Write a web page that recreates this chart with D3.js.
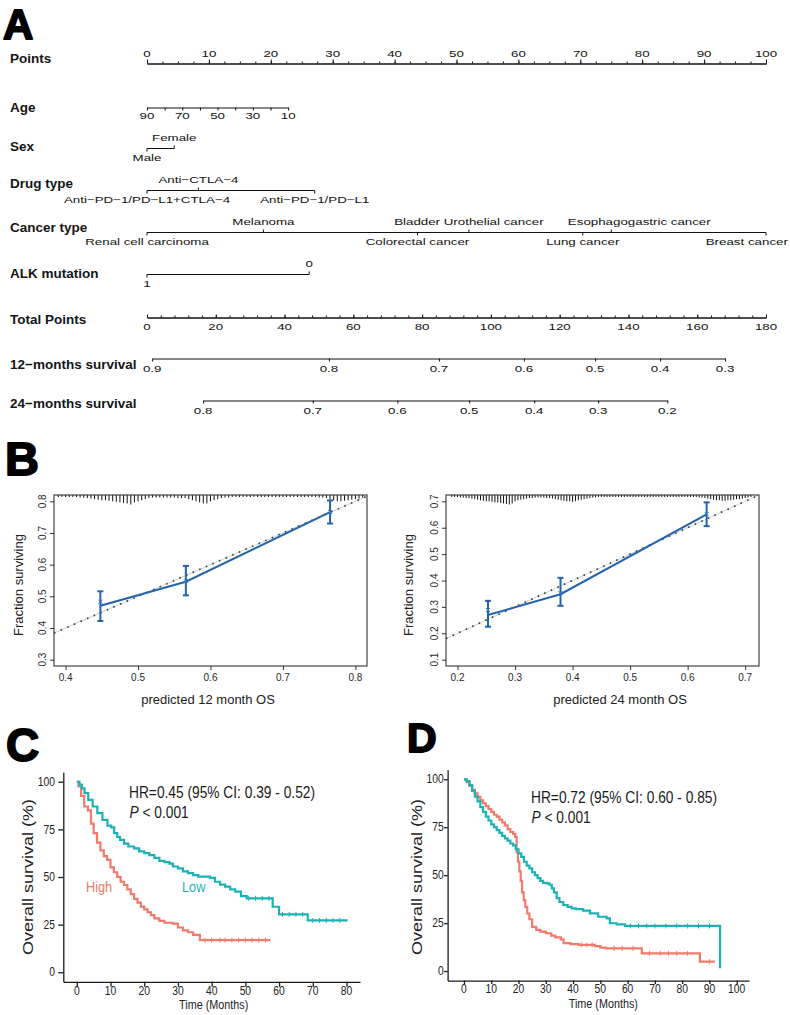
<!DOCTYPE html>
<html>
<head>
<meta charset="utf-8">
<script src="https://d3js.org/d3.v7.min.js"></script>
<style>
  body { margin: 0; background: #fff; }
  svg text { font-family: "Liberation Sans", Arial, Helvetica, sans-serif; }
</style>
</head>
<body>
<script>
// ---------- A: nomogram ----------
var pointTicks = [0, 10, 20, 30, 40, 50, 60, 70, 80, 90, 100];
var ageTicks = [90, 80, 70, 60, 50, 40, 30, 20, 10];
var ageLabels = [90, 70, 50, 30, 10];
var ageRange = [90, 10];
var agePoints = [0, 22.8];
var sexLevels = ["Male", "Female"];
var sexPoints = [0, 4.4];
var drugLevels = ["Anti−PD−1/PD−L1+CTLA−4", "Anti−CTLA−4", "Anti−PD−1/PD−L1"];
var drugPoints = [0, 8.3, 27.1];
var cancerLevels = ["Renal cell carcinoma", "Melanoma", "Colorectal cancer", "Bladder Urothelial cancer",
                    "Lung cancer", "Esophagogastric cancer", "Breast cancer"];
var cancerPoints = [0, 18.8, 43.7, 52, 70.4, 75, 100];
var alkLevels = ["1", "0"];
var alkPoints = [0, 26.2];
var totalTicks = [0, 20, 40, 60, 80, 100, 120, 140, 160, 180];
var surv12Labels = ["0.9", "0.8", "0.7", "0.6", "0.5", "0.4", "0.3"];
var surv12Total = [1.5, 52.9, 84.9, 109.6, 130.3, 149.2, 168.1];
var surv24Labels = ["0.8", "0.7", "0.6", "0.5", "0.4", "0.3", "0.2"];
var surv24Total = [16.3, 48.2, 72.8, 93.7, 112.6, 131.2, 151.3];

// ---------- B: calibration ----------
var cal12Pred = [0.448, 0.566, 0.765];
var cal12Obs = [0.470, 0.546, 0.766];
var cal12Lo = [0.422, 0.503, 0.730];
var cal12Hi = [0.516, 0.596, 0.803];
var cal12Corr = [0.483, 0.548, 0.766];
var cal12XTicks = [0.4, 0.5, 0.6, 0.7, 0.8];
var cal12YTicks = [0.3, 0.4, 0.5, 0.6, 0.7, 0.8];
var rug12Start = 0.39, rug12Step = 0.005;
var rug12 = [1,1,1,1,1,1,1.5,1.5,2,2.5,3,3.5,4,4,4.5,5,5.5,6,6.5,7,8,6,5,4,3,2,1.5,1.5,1.5,1.5,
             1.5,1.5,1.5,2,2,2,3,4,5,6,7,7,5,4,3,2,1.5,1.5,1,1,1,1,1,1,1,1,1,1,1,1,
             1,1,1,1,1,1,1,1,1,1,1,1,1.5,1.5,2,3,4,5,5,4.5,4,3.5,3,2.5,1.5];

var cal24Pred = [0.253, 0.379, 0.633];
var cal24Obs = [0.269, 0.348, 0.651];
var cal24Lo = [0.225, 0.304, 0.606];
var cal24Hi = [0.323, 0.410, 0.696];
var cal24Corr = [0.288, 0.352, 0.651];
var cal24XTicks = [0.2, 0.3, 0.4, 0.5, 0.6, 0.7];
var cal24YTicks = [0.1, 0.2, 0.3, 0.4, 0.5, 0.6, 0.7];
var rug24Start = 0.19, rug24Step = 0.005;
var rug24 = [1,1,1,1.5,1.5,2,2,2.5,3,3.5,4,
             4.5,5,5,5.5,6,6,6.5,7,7.5,8,7,5,
             4,3.5,3,2.5,2,2,1.5,1.5,1.5,1.5,
             2,2,2.5,3,3.5,4,4.5,5,5,5.5,
             5,4,3.5,3,2.5,2,1.5,1.5,1,1,
             1,1,1,1,1,1,1,1,1,1,1,1,1,1,1,1,1,1,1,1,1,1,1,1,1,1,1,1,1,1,
             1,1,1,1.5,1.5,2,2.5,3,
             3.5,4,4,4.5,4.5,4,4,3.5,3,3,2.5,2,
             1.5,1];

// ---------- C / D: Kaplan-Meier ----------
var survTicks = [0, 25, 50, 75, 100];
var cTimeTicks = [0, 10, 20, 30, 40, 50, 60, 70, 80];
var dTimeTicks = [0, 10, 20, 30, 40, 50, 60, 70, 80, 90, 100];

var cHighTime = [0, 0.5, 1.3, 2.2, 3.3, 4.2, 5, 6, 7, 8, 9, 10, 11, 12, 13, 14, 15, 16, 17, 18, 19, 20,
                 21, 22, 23, 24.5, 26, 28.5, 30, 31.5, 33, 34.5, 36.5, 57.4];
var cHighSurv = [100, 97.5, 92.5, 87, 85, 78, 73, 68, 64, 61, 59, 55, 52.5, 50, 47.5, 45.8, 43.5, 41, 38.5,
                 36.5, 34.5, 33, 31.5, 30, 28.3, 27, 26, 25.5, 23.5, 22, 21, 19.6, 16.9, 16.9];
var cHighCens = [38, 40, 42.5, 44, 46, 48, 50, 52, 54, 56];

var cLowTime = [0, 0.8, 1.5, 2.3, 3.4, 4.7, 6.1, 7.6, 9.1, 10.2, 11.1, 12, 12.8, 14, 15.3, 17, 18.5, 20,
                21.5, 23, 24.5, 26, 27.5, 28.5, 30, 31.5, 33, 34.5, 36, 39.5, 41, 42.5, 44, 45.5, 47,
                48.7, 50.4, 58.1, 60, 68.5, 80.3];
var cLowSurv = [100, 98.5, 96.5, 94, 90.5, 87, 83.5, 80, 77, 76, 73, 71, 69.5, 67.5, 66, 65, 63.5, 62.5,
                61.5, 60, 58.5, 57.8, 57, 55.5, 54.5, 53, 52, 51, 50.2, 49.5, 47.5, 46, 44.9, 43.5, 42.3,
                40, 38.8, 34.4, 30.4, 27.2, 27.2];
var cLowCens = [51, 53, 55, 57, 61, 63, 65, 67, 70, 72, 74, 76, 78];

var dHighTime = [0, 1, 2, 3, 4, 5, 6, 7, 8, 9, 10, 11, 12, 13, 14, 15, 16, 17, 18, 18.8, 19.3, 19.8,
                 20.3, 20.8, 21.3, 21.9, 22.5, 23.2, 24, 25, 26.5, 28, 30, 32, 33.5, 35.5, 36.5, 39, 42,
                 48, 50, 52, 65.2, 86.5, 92];
var dHighSurv = [100, 98.5, 96.5, 94.5, 92.7, 90.8, 89, 87.5, 86, 84.5, 83, 81.5, 80.5, 79, 77.5, 76, 74,
                 72.5, 71.5, 70, 62, 57, 52, 47, 41, 37, 33.5, 30, 27, 23, 21.5, 20.5, 19.7, 18.5, 17.5,
                 16.5, 14.5, 14, 13.6, 13, 12.2, 11.8, 9.2, 4.9, 4.9];
var dHighCens = [43, 45, 47, 55, 58, 62, 68, 72, 75, 78, 82, 90];

var dLowTime = [0, 1, 2, 3, 4, 5, 6, 7, 8, 9, 10, 11, 12, 13, 14, 15, 16, 17, 18, 19, 20, 21, 22, 23,
                24, 25, 26, 27, 28, 29, 30.3, 31.3, 32.2, 33, 34, 35, 36.4, 38, 39.5, 41, 43.7, 46.2,
                49.2, 52.3, 53.5, 56, 59, 93.9];
var dLowSurv = [100, 99, 97, 94, 91, 88.5, 85.5, 83, 80.5, 78.5, 76.5, 75, 73.5, 72, 70.5, 69.2, 68, 66.5,
                65.5, 63.5, 61.4, 59.5, 57, 55, 53.5, 51.5, 50, 48.4, 47, 46, 45.7, 45, 43.1, 41, 38, 36,
                34.4, 33.5, 32.7, 32.3, 31.5, 30.1, 28.3, 27.5, 24.9, 24.3, 23.5, 1.4];
var dLowCens = [61, 64, 67, 70, 74, 78, 82, 86, 90];

var redCol = "#F07A6C", tealCol = "#1BB2B6", blueCol = "#2364AC";

var svg = d3.select("body").append("svg").attr("width", 790).attr("height", 1015).style("display", "block");

function txt(g, x, y, s, o) {
  o = o || {};
  var tr = "translate(" + x + "," + y + ")";
  if (o.rot) tr += " rotate(" + o.rot + ")";
  if (o.sx || o.sy) tr += " scale(" + (o.sx || 1) + "," + (o.sy || 1) + ")";
  var t = g.append("text").attr("transform", tr)
    .attr("text-anchor", o.anchor || "start")
    .attr("font-size", o.size || 10)
    .attr("fill", o.fill || "#1a1a1a")
    .text(s);
  if (o.weight) t.attr("font-weight", o.weight);
  return t;
}

function letter(s, x, y, size) {
  txt(svg, x, y, s, {size: size, weight: "bold", fill: "#000"})
    .attr("stroke", "#000").attr("stroke-width", 1.8).attr("stroke-linejoin", "round");
}

function plainAxis(g, col) {
  g.attr("color", col || "#111").attr("font-size", null).attr("font-family", null);
  return g;
}

letter("A", 3, 38.5, 42);
letter("B", 5, 475, 47);
letter("C", 6, 761, 46);
letter("D", 407, 752, 41);

// ---------- nomogram ----------
var nomo = svg.append("g");
var xPts = d3.scaleLinear().domain([0, 100]).range([147, 766]);
var xTot = d3.scaleLinear().domain([0, 180]).range([147, 766]);
var tickOpt = {size: 9.2, sx: 1.45, anchor: "middle", fill: "#111"};

function rowLabel(s, y) {
  txt(nomo, 10, y, s, {size: 13.5, weight: "bold", fill: "#151515"});
}

function placeLabel(t, x, y) {
  t.attr("transform", "translate(" + x + "," + y + ") scale(" + tickOpt.sx + ",1)");
}

// Points
rowLabel("Points", 62.7);
plainAxis(nomo.append("g").attr("transform", "translate(0,63.5)")
  .call(d3.axisTop(xPts).tickValues(d3.range(0, 101, 2.5)).tickSize(2).tickSizeOuter(0).tickFormat("")));
plainAxis(nomo.append("g").attr("transform", "translate(0,63.5)")
  .call(d3.axisTop(xPts).tickValues(pointTicks).tickSize(4).tickSizeOuter(0).tickFormat("")));
pointTicks.forEach(function (v) { txt(nomo, xPts(v), 56.7, v, tickOpt); });

// Age
rowLabel("Age", 111.7);
var ageX = d3.scaleLinear().domain(ageRange).range(agePoints.map(xPts));
plainAxis(nomo.append("g").attr("transform", "translate(0,107.5)")
  .call(d3.axisBottom(ageX).tickValues(ageTicks).tickSize(3).tickSizeOuter(0).tickFormat("")));
ageLabels.forEach(function (v) { txt(nomo, ageX(v), 119, v, tickOpt); });

// categorical rows: labels alternate below / above; same-side labels are pushed apart, last one kept on page
function catRow(label, labelY, lineY, levels, pts) {
  rowLabel(label, labelY);
  var xs = pts.map(xPts);
  nomo.append("line").attr("x1", d3.min(xs)).attr("x2", d3.max(xs))
    .attr("y1", lineY).attr("y2", lineY).attr("stroke", "#111");
  var lastRight = {up: -1e9, down: -1e9};
  levels.forEach(function (lv, i) {
    var up = i % 2 === 1, side = up ? "up" : "down";
    var ly = up ? lineY - 7.4 : lineY + 12.8;
    nomo.append("line").attr("x1", xs[i]).attr("x2", xs[i])
      .attr("y1", lineY).attr("y2", lineY + (up ? -3 : 3)).attr("stroke", "#111");
    var t = txt(nomo, xs[i], ly, lv, tickOpt);
    var w = t.node().getBBox().width * tickOpt.sx;
    var cx = xs[i];
    if (cx - w / 2 < lastRight[side] + 24) cx = lastRight[side] + 24 + w / 2;
    if (cx + w / 2 > 788) cx = 788 - w / 2;
    placeLabel(t, cx, ly);
    lastRight[side] = cx + w / 2;
  });
}
catRow("Sex", 150.7, 148.5, sexLevels, sexPoints);
catRow("Drug type", 188.3, 190.5, drugLevels, drugPoints);
catRow("Cancer type", 231.7, 232.5, cancerLevels, cancerPoints);
catRow("ALK mutation", 277.7, 274.5, alkLevels, alkPoints);

// Total points
rowLabel("Total Points", 324);
plainAxis(nomo.append("g").attr("transform", "translate(0,317.5)")
  .call(d3.axisTop(xTot).tickValues(d3.range(0, 181, 4)).tickSize(2).tickSizeOuter(0).tickFormat("")));
plainAxis(nomo.append("g").attr("transform", "translate(0,317.5)")
  .call(d3.axisTop(xTot).tickValues(totalTicks).tickSize(3).tickSizeOuter(0).tickFormat("")));
totalTicks.forEach(function (v) { txt(nomo, xTot(v), 330, v, tickOpt); });

// survival rows
function survRow(label, labelY, lineY, labels, tots) {
  rowLabel(label, labelY);
  var sc = d3.scaleLinear().domain(d3.extent(tots)).range(d3.extent(tots).map(xTot));
  plainAxis(nomo.append("g").attr("transform", "translate(0," + lineY + ")")
    .call(d3.axisBottom(sc).tickValues(tots).tickSize(3).tickSizeOuter(0).tickFormat("")));
  tots.forEach(function (v, i) { txt(nomo, sc(v), lineY + 13, labels[i], tickOpt); });
}
survRow("12−months survival", 369, 358.5, surv12Labels, surv12Total);
survRow("24−months survival", 408.3, 400.5, surv24Labels, surv24Total);

// ---------- calibration plots ----------
function drawCal(c) {
  var g = svg.append("g");
  var x = d3.scaleLinear().domain(c.xDom).range([c.left, c.right]);
  var y = d3.scaleLinear().domain(c.yDom).range([c.bottom, c.top]);
  var clipId = "clip" + c.id;
  g.append("clipPath").attr("id", clipId).append("rect")
    .attr("x", c.left).attr("y", c.top).attr("width", c.right - c.left).attr("height", c.bottom - c.top);
  var inner = g.append("g").attr("clip-path", "url(#" + clipId + ")");

  // ideal line
  inner.append("line").attr("x1", x(c.xDom[0])).attr("y1", y(c.xDom[0]))
    .attr("x2", x(c.xDom[1])).attr("y2", y(c.xDom[1]))
    .attr("stroke", "#d0d0d0").attr("stroke-width", 1);
  inner.append("line").attr("x1", x(c.xDom[0])).attr("y1", y(c.xDom[0]))
    .attr("x2", x(c.xDom[1])).attr("y2", y(c.xDom[1]))
    .attr("stroke", "#2c4a3e").attr("stroke-width", 1.7).attr("stroke-dasharray", "1.6 5.6");

  // rug of predictions
  var rh = d3.scaleLinear().domain([1, 8]).range([2, 9.5]);
  c.rug.forEach(function (h, i) {
    var v = c.rugStart + i * c.rugStep;
    inner.append("line").attr("x1", x(v)).attr("x2", x(v))
      .attr("y1", c.top).attr("y2", c.top + rh(h))
      .attr("stroke", "#111").attr("stroke-width", 1);
  });

  // observed line
  var pts = c.pred.map(function (p, i) { return [p, c.obs[i]]; });
  g.append("path").attr("d", d3.line().x(function (d) { return x(d[0]); }).y(function (d) { return y(d[1]); })(pts))
    .attr("fill", "none").attr("stroke", blueCol).attr("stroke-width", 2);

  // error bars and corrected marks
  c.pred.forEach(function (p, i) {
    var xp = x(p);
    g.append("line").attr("x1", xp).attr("x2", xp).attr("y1", y(c.lo[i])).attr("y2", y(c.hi[i]))
      .attr("stroke", blueCol).attr("stroke-width", 2);
    [c.lo[i], c.hi[i]].forEach(function (v) {
      g.append("line").attr("x1", xp - 3).attr("x2", xp + 3).attr("y1", y(v)).attr("y2", y(v))
        .attr("stroke", blueCol).attr("stroke-width", 2);
    });
    var yc = y(c.corr[i]);
    g.append("path").attr("d", "M" + (xp - 2) + "," + (yc - 2) + "L" + (xp + 2) + "," + (yc + 2) +
      "M" + (xp - 2) + "," + (yc + 2) + "L" + (xp + 2) + "," + (yc - 2))
      .attr("stroke", "#3a78c0").attr("stroke-width", 1);
  });

  // frame
  g.append("rect").attr("x", c.left).attr("y", c.top)
    .attr("width", c.right - c.left).attr("height", c.bottom - c.top)
    .attr("fill", "none").attr("stroke", "#333").attr("stroke-width", 1.1);

  var ax = plainAxis(g.append("g").attr("transform", "translate(0," + c.bottom + ")")
    .call(d3.axisBottom(x).tickValues(c.xTicks).tickSize(4).tickSizeOuter(0).tickFormat("")), "#333");
  ax.select(".domain").remove();
  var ay = plainAxis(g.append("g").attr("transform", "translate(" + c.left + ",0)")
    .call(d3.axisLeft(y).tickValues(c.yTicks).tickSize(4).tickSizeOuter(0).tickFormat("")), "#333");
  ay.select(".domain").remove();

  var f = d3.format(".1f");
  c.xTicks.forEach(function (v) { txt(g, x(v), c.bottom + 14.7, f(v), {size: 10, anchor: "middle", fill: "#2a2a2a"}); });
  c.yTicks.forEach(function (v) { txt(g, c.left - 8, y(v), f(v), {size: 10, anchor: "middle", rot: -90, fill: "#2a2a2a"}); });

  txt(g, c.yTitleX, 585, "Fraction surviving", {size: 13, anchor: "middle", rot: -90, fill: "#222"});
  txt(g, c.xTitleX, 704.3, c.xTitle, {size: 13, anchor: "middle", fill: "#222"});
}

drawCal({id: "12", left: 54, right: 367, top: 495, bottom: 666, xDom: [0.384, 0.816], yDom: [0.28, 0.82],
  pred: cal12Pred, obs: cal12Obs, lo: cal12Lo, hi: cal12Hi, corr: cal12Corr,
  xTicks: cal12XTicks, yTicks: cal12YTicks, rug: rug12, rugStart: rug12Start, rugStep: rug12Step,
  yTitleX: 23, xTitleX: 208, xTitle: "predicted 12 month OS"});
drawCal({id: "24", left: 446, right: 759, top: 495, bottom: 666, xDom: [0.18, 0.724], yDom: [0.076, 0.724],
  pred: cal24Pred, obs: cal24Obs, lo: cal24Lo, hi: cal24Hi, corr: cal24Corr,
  xTicks: cal24XTicks, yTicks: cal24YTicks, rug: rug24, rugStart: rug24Start, rugStep: rug24Step,
  yTitleX: 413, xTitleX: 620, xTitle: "predicted 24 month OS"});

// ---------- Kaplan-Meier plots ----------
function drawKM(c) {
  var g = svg.append("g");
  var x = d3.scaleLinear().domain(c.xDom).range(c.xRange);
  var y = d3.scaleLinear().domain([-5, 105]).range(c.yRange);
  var base = c.yRange[0], left = c.xRange[0];

  var ax = plainAxis(g.append("g").attr("transform", "translate(0," + base + ")")
    .call(d3.axisBottom(x).tickValues(c.xTicks).tickSize(c.tick).tickSizeOuter(0).tickFormat("")), "#1a1a1a");
  var ay = plainAxis(g.append("g").attr("transform", "translate(" + left + ",0)")
    .call(d3.axisLeft(y).tickValues(survTicks).tickSize(c.tick).tickSizeOuter(0).tickFormat("")), "#1a1a1a");
  ax.selectAll("path,line").attr("stroke-width", 1.3);
  ay.selectAll("path,line").attr("stroke-width", 1.3);

  var tk = {size: 12, sx: 0.86, anchor: "middle", fill: "#222"};
  c.xTicks.forEach(function (v) { txt(g, x(v), base + c.xLabDy, v, tk); });
  survTicks.forEach(function (v) {
    txt(g, left - c.yLabDx, y(v) + 4.2, v, {size: 12, sx: 0.86, anchor: "end", fill: "#222"});
  });
  txt(g, c.xTitleX, c.xTitleY, "Time (Months)", {size: 13.5, sx: 0.8, anchor: "middle", fill: "#222"});
  txt(g, c.yTitleX, 877, "Overall survival (%)", {size: 18, sy: 0.85, rot: -90, anchor: "middle", fill: "#222"});

  var line = d3.line().x(function (d) { return x(d[0]); }).y(function (d) { return y(d[1]); }).curve(d3.curveStepAfter);
  c.curves.forEach(function (cv) {
    var pts = cv.time.map(function (t, i) { return [t, cv.surv[i]]; });
    g.append("path").attr("d", line(pts)).attr("fill", "none")
      .attr("stroke", cv.col).attr("stroke-width", 2.2);
    cv.cens.forEach(function (t) {
      var i = d3.bisectRight(cv.time, t) - 1;
      var yy = y(cv.surv[Math.max(0, i)]);
      g.append("line").attr("x1", x(t)).attr("x2", x(t)).attr("y1", yy - 2.5).attr("y2", yy + 2.5)
        .attr("stroke", cv.col).attr("stroke-width", 1);
    });
  });

  g.append("text").attr("transform", "translate(" + c.hrX + "," + c.hrY + ") scale(0.86,1)")
    .attr("font-size", 16).attr("fill", "#1a1a1a").text(c.hr);
  var p = g.append("text").attr("transform", "translate(" + (c.hrX + 0.5) + "," + (c.hrY + 20) + ") scale(0.86,1)")
    .attr("font-size", 16).attr("fill", "#1a1a1a");
  p.append("tspan").attr("font-style", "italic").text("P");
  p.append("tspan").text(" < 0.001");
  return g;
}

var gC = drawKM({xDom: [-4, 84], xRange: [63.3, 360], yRange: [981.8, 772.2], xTicks: cTimeTicks, tick: 5,
  xLabDy: 13.2, yLabDx: 8.3, xTitleX: 213.7, xTitleY: 1009.3, yTitleX: 33,
  hr: "HR=0.45 (95% CI: 0.39 - 0.52)", hrX: 129, hrY: 798.3,
  curves: [{time: cHighTime, surv: cHighSurv, cens: cHighCens, col: redCol},
           {time: cLowTime, surv: cLowSurv, cens: cLowCens, col: tealCol}]});
txt(gC, 86, 892.3, "High", {size: 15, sx: 0.85, fill: redCol});
txt(gC, 182, 892.3, "Low", {size: 15, sx: 0.85, fill: tealCol});

drawKM({xDom: [-6, 104.5], xRange: [447.6, 749], yRange: [980.6, 769.7], xTicks: dTimeTicks, tick: 3.5,
  xLabDy: 12.7, yLabDx: 3.8, xTitleX: 603.3, xTitleY: 1007.7, yTitleX: 422,
  hr: "HR=0.72 (95% CI: 0.60 - 0.85)", hrX: 531, hrY: 803.3,
  curves: [{time: dHighTime, surv: dHighSurv, cens: dHighCens, col: redCol},
           {time: dLowTime, surv: dLowSurv, cens: dLowCens, col: tealCol}]});
</script>
</body>
</html>
